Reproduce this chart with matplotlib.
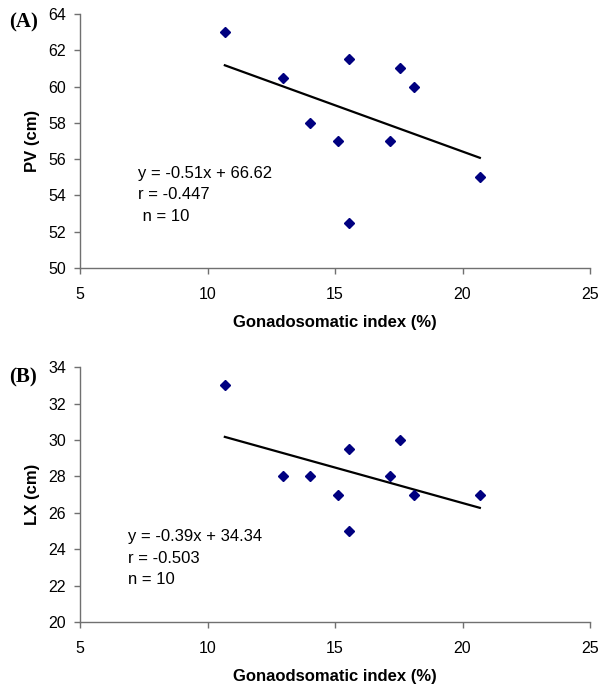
import numpy as np
import matplotlib.pyplot as plt

# gonadosomatic index (%) of the 10 fish
gsi = [10.68, 12.98, 14.02, 15.12, 15.53, 15.53, 17.17, 17.56, 18.10, 20.68]

# panel A: PV (cm)
pv = [63.0, 60.5, 58.0, 57.0, 61.5, 52.5, 57.0, 61.0, 60.0, 55.0]
pv_fit = (-0.51, 66.62)
pv_text = ["y = -0.51x + 66.62", "r = -0.447", " n = 10"]

# panel B: LX (cm)
lx = [33.0, 28.0, 28.0, 27.0, 29.5, 25.0, 28.0, 30.0, 27.0, 27.0]
lx_fit = (-0.39, 34.34)
lx_text = ["y = -0.39x + 34.34", "r = -0.503", "n = 10"]

plt.rcParams['font.family'] = ['Liberation Sans', 'DejaVu Sans']

W, H = 602, 684
fig = plt.figure(figsize=(W / 100, H / 100), dpi=100)


def px_axes(left, top, right, bottom):
    return fig.add_axes([left / W, 1 - bottom / H, (right - left) / W, (bottom - top) / H])


def panel(ax, y, fit, lines, ylim, yticks, ylabel, xlabel, text_xy):
    ax.set_xlim(5, 25)
    ax.set_ylim(*ylim)
    ax.set_xticks([5, 10, 15, 20, 25])
    ax.set_yticks(yticks)
    for s in ['top', 'right']:
        ax.spines[s].set_visible(False)
    for s in ['left', 'bottom']:
        ax.spines[s].set_color('#707070')
        ax.spines[s].set_linewidth(1.0)
    ax.tick_params(axis='both', direction='out', length=4, width=1.0,
                   color='#707070', labelsize=11.5)
    ax.tick_params(axis='x', pad=10)
    ax.tick_params(axis='y', pad=6)

    ax.plot(gsi, y, linestyle='none', marker='D', markersize=5.2,
            color='#000080', zorder=3)
    xs = np.array([min(gsi), max(gsi)])
    ax.plot(xs, fit[0] * xs + fit[1], color='black', linewidth=1.6, zorder=2)

    ax.set_xlabel(xlabel, fontsize=12, fontweight='bold', labelpad=9)
    ax.set_ylabel(ylabel, fontsize=12, fontweight='bold', labelpad=6)

    tx, ty = text_xy
    for i, t in enumerate(lines):
        fig.text(tx, ty - i * 21.5 / H, t, fontsize=12, va='center', ha='left')


ax1 = px_axes(80, 14, 590, 268)
panel(ax1, pv, pv_fit, pv_text, (50, 64), range(50, 65, 2), 'PV (cm)',
      'Gonadosomatic index (%)', (138 / W, 1 - 173 / H))
fig.text(9 / W, 1 - 22 / H, '(A)', family='Liberation Serif', fontsize=15,
         fontweight='bold', va='center', ha='left')

ax2 = px_axes(80, 367.3, 590, 622)
panel(ax2, lx, lx_fit, lx_text, (20, 34), range(20, 35, 2), 'LX (cm)',
      'Gonaodsomatic index (%)', (128 / W, 1 - 537 / H))
fig.text(9 / W, 1 - 377 / H, '(B)', family='Liberation Serif', fontsize=15,
         fontweight='bold', va='center', ha='left')

fig.savefig('out.png', dpi=100)
